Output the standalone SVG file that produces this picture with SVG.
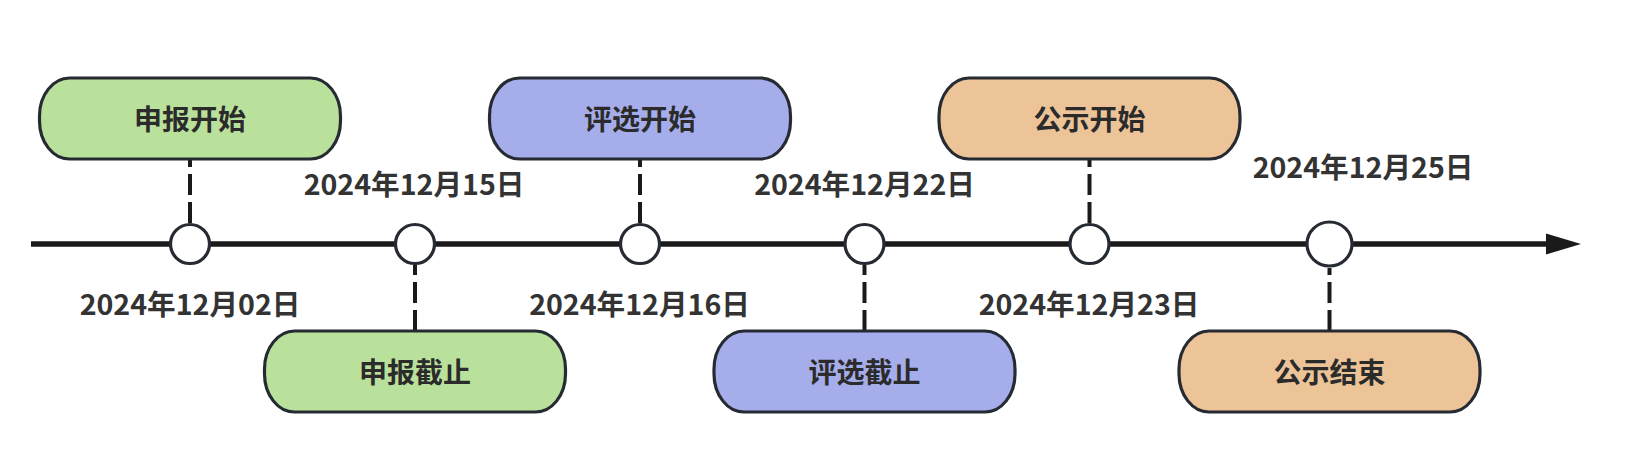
<svg xmlns="http://www.w3.org/2000/svg" width="1630" height="470" viewBox="0 0 1630 470">
<style>
.bg{fill:#ffffff}
.box{stroke:#262b33;stroke-width:3.2}
.g{fill:#bae19b}
.p{fill:#a5adeb}
.o{fill:#ecc497}
.dot{fill:#ffffff;stroke:#262b33;stroke-width:3.2}
.lbl{font-family:"Noto Sans CJK SC","Noto Sans",sans-serif;font-size:28px;font-weight:bold;fill:#2b2b2b;text-anchor:middle}
.date{font-family:"Noto Sans CJK SC","Noto Sans",sans-serif;font-size:28.6px;font-weight:bold;fill:#333333;text-anchor:middle}
.dash{stroke:#1a1a1a;stroke-width:4;stroke-dasharray:21 7;fill:none}
.axis{stroke:#1a1a1a;stroke-width:5.5;fill:none}
</style>
<rect class="bg" x="0" y="0" width="1630" height="470"/>
<g id="connectors">
  <line class="axis" x1="31" y1="244" x2="1550" y2="244"/>
  <polygon points="1546,233.5 1581,244 1546,254.5" fill="#1a1a1a"/>
  <line class="dash" x1="190" y1="223" x2="190" y2="160"/>
  <line class="dash" x1="415" y1="331" x2="415" y2="265"/>
  <line class="dash" x1="640" y1="223" x2="640" y2="160"/>
  <line class="dash" x1="864.5" y1="331" x2="864.5" y2="265"/>
  <line class="dash" x1="1089.5" y1="223" x2="1089.5" y2="160"/>
  <line class="dash" x1="1329.5" y1="331" x2="1329.5" y2="268"/>
</g>
<g id="dot1"><circle class="dot" cx="190" cy="244" r="19.5"/></g>
<g id="dot2"><circle class="dot" cx="415" cy="244" r="19.5"/></g>
<g id="dot3"><circle class="dot" cx="640" cy="244" r="19.5"/></g>
<g id="dot4"><circle class="dot" cx="864.5" cy="244" r="19.5"/></g>
<g id="dot5"><circle class="dot" cx="1089.5" cy="244" r="19.5"/></g>
<g id="dot6"><ellipse class="dot" cx="1329.5" cy="244" rx="22.5" ry="22"/></g>
<g id="node1"><rect class="box g" x="39.5" y="78" width="301" height="81" rx="30" ry="38"/><text class="lbl" x="190" y="130">申报开始</text></g>
<g id="node2"><rect class="box g" x="264.5" y="331" width="301" height="81" rx="30" ry="38"/><text class="lbl" x="415" y="383">申报截止</text></g>
<g id="node3"><rect class="box p" x="489.5" y="78" width="301" height="81" rx="30" ry="38"/><text class="lbl" x="640" y="130">评选开始</text></g>
<g id="node4"><rect class="box p" x="714" y="331" width="301" height="81" rx="30" ry="38"/><text class="lbl" x="864.5" y="383">评选截止</text></g>
<g id="node5"><rect class="box o" x="939" y="78" width="301" height="81" rx="30" ry="38"/><text class="lbl" x="1089.5" y="130">公示开始</text></g>
<g id="node6"><rect class="box o" x="1179" y="331" width="301" height="81" rx="30" ry="38"/><text class="lbl" x="1329.5" y="383">公示结束</text></g>
<g id="dates">
  <text class="date" x="190" y="315">2024年12月02日</text>
  <text class="date" x="414" y="195">2024年12月15日</text>
  <text class="date" x="639.5" y="315">2024年12月16日</text>
  <text class="date" x="864.5" y="195">2024年12月22日</text>
  <text class="date" x="1089" y="315">2024年12月23日</text>
  <text class="date" x="1363" y="178">2024年12月25日</text>
</g>
</svg>
